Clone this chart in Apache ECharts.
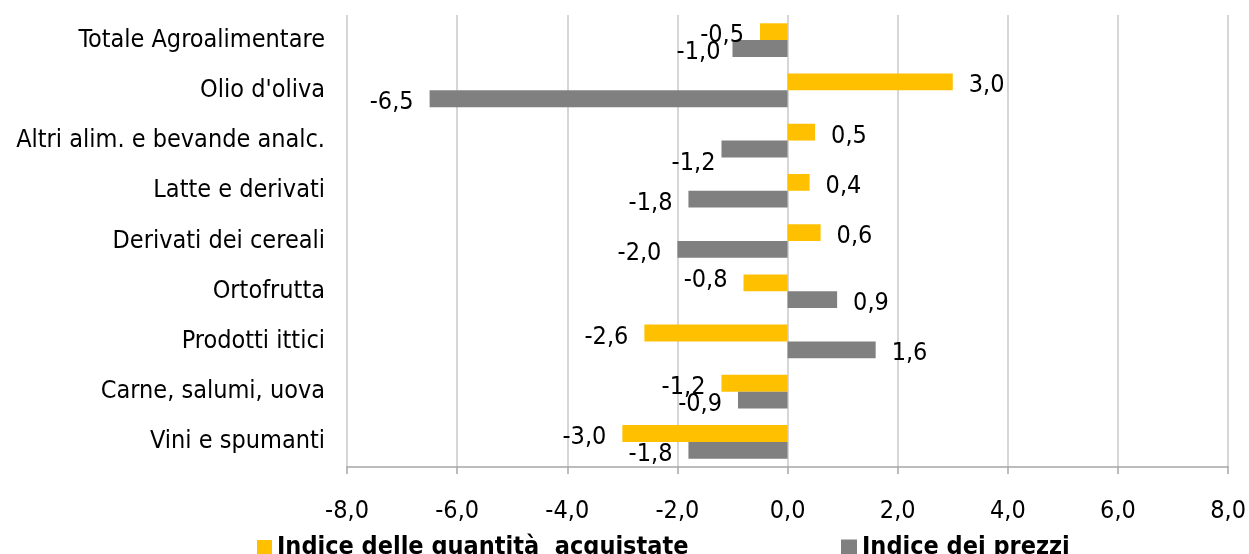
<!DOCTYPE html>
<html>
<head>
<meta charset="utf-8">
<script src="https://cdn.jsdelivr.net/npm/echarts@6/dist/echarts.min.js"></script>
<style>
html,body{margin:0;padding:0;background:#fff;}
#chart{width:1249px;height:554px;}
</style>
</head>
<body>
<div id="chart"></div>
<script>
const categories = [
  "Totale Agroalimentare",
  "Olio d'oliva",
  "Altri alim. e bevande analc.",
  "Latte e derivati",
  "Derivati dei cereali",
  "Ortofrutta",
  "Prodotti ittici",
  "Carne, salumi, uova",
  "Vini e spumanti"
];
const seriesNames = ["Indice delle quantità  acquistate", "Indice dei prezzi"];
const quantita = [-0.5, 3.0, 0.5, 0.4, 0.6, -0.8, -2.6, -1.2, -3.0];
const prezzi = [-1.0, -6.5, -1.2, -1.8, -2.0, 0.9, 1.6, -0.9, -1.8];
const xTicks = [-8, -6, -4, -2, 0, 2, 4, 6, 8];

const FONT = "'DejaVu Sans Condensed', 'DejaVu Sans', sans-serif";
const fmt = v => Number(v).toFixed(1).replace('.', ',');

// small manual nudges of individual data labels, as in the original
const nudgeQ = {5: [0, -6]};
const nudgeP = {0: [4, 0], 2: [10, 11]};

function makeData(arr, nudge) {
  return arr.map((v, i) => {
    const off = nudge[i] || [0, 0];
    return {
      value: v,
      label: {
        position: v < 0 ? 'left' : 'right',
        offset: [off[0], off[1] + 4]
      }
    };
  });
}

const chart = echarts.init(document.getElementById('chart'), null, {renderer: 'canvas'});
chart.setOption({
  backgroundColor: '#ffffff',
  animation: false,
  grid: {left: 347, right: 20, top: 15, bottom: 87, containLabel: false},
  xAxis: {
    type: 'value',
    min: xTicks[0],
    max: xTicks[xTicks.length - 1],
    interval: 2,
    axisLine: {show: true, onZero: false, lineStyle: {color: '#A6A6A6', width: 1.5}},
    axisTick: {show: true, length: 7, lineStyle: {color: '#A6A6A6', width: 1.5}},
    splitLine: {show: true, lineStyle: {color: '#C8C8C8', width: 1.5}},
    axisLabel: {
      formatter: fmt,
      fontFamily: FONT,
      fontSize: 25,
      color: '#000',
      margin: 32
    }
  },
  yAxis: {
    type: 'category',
    data: categories,
    inverse: true,
    axisLine: {show: false},
    axisTick: {show: false},
    splitLine: {show: false},
    axisLabel: {fontFamily: FONT, fontSize: 25, color: '#000', margin: 22}
  },
  legend: [
    {
      data: [seriesNames[0]],
      left: 252, top: 530,
      itemWidth: 15, itemHeight: 15, itemGap: 6,
      icon: 'rect',
      textStyle: {fontFamily: FONT, fontSize: 25, fontWeight: 'bold', color: '#000'}
    },
    {
      data: [seriesNames[1]],
      left: 836, top: 530,
      itemWidth: 16, itemHeight: 16, itemGap: 6,
      icon: 'rect',
      textStyle: {fontFamily: FONT, fontSize: 25, fontWeight: 'bold', color: '#000'}
    }
  ],
  series: [
    {
      name: seriesNames[0],
      type: 'bar',
      data: makeData(quantita, nudgeQ),
      itemStyle: {color: '#FFC000'},
      barGap: '0%',
      barCategoryGap: '33%',
      label: {show: true, formatter: p => fmt(p.value), fontFamily: FONT, fontSize: 25, color: '#000', distance: 16}
    },
    {
      name: seriesNames[1],
      type: 'bar',
      data: makeData(prezzi, nudgeP),
      itemStyle: {color: '#808080'},
      barGap: '0%',
      barCategoryGap: '33%',
      label: {show: true, formatter: p => fmt(p.value), fontFamily: FONT, fontSize: 25, color: '#000', distance: 16}
    }
  ]
});
</script>
</body>
</html>
